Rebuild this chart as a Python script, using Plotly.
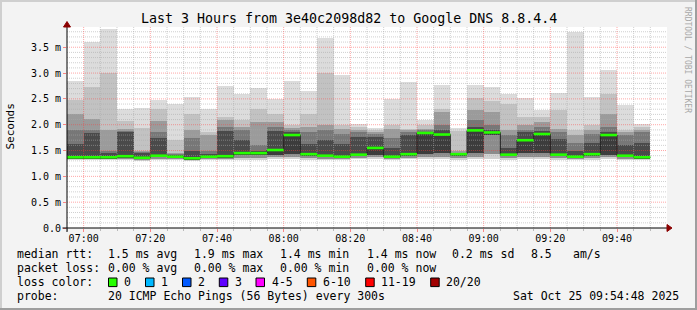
import plotly.graph_objects as go

# ---------------- data ----------------
DAY = "2025-10-25"
slot_start = ["06:55", "07:00", "07:05", "07:10", "07:15", "07:20", "07:25", "07:30", "07:35",
              "07:40", "07:45", "07:50", "07:55", "08:00", "08:05", "08:10", "08:15", "08:20",
              "08:25", "08:30", "08:35", "08:40", "08:45", "08:50", "08:55", "09:00", "09:05",
              "09:10", "09:15", "09:20", "09:25", "09:30", "09:35", "09:40", "09:45"]
slot_end = slot_start[1:] + ["09:50"]

# sorted ping levels per 5-minute slot (ms)
rtt_max = [2.84, 3.61, 3.86, 2.30, 2.32, 2.48, 2.41, 2.53, 2.30, 2.74, 2.59, 2.72, 2.50, 2.84, 2.66,
           3.67, 2.96, 2.01, 1.94, 2.49, 2.82, 2.10, 2.76, 1.94, 2.76, 2.73, 2.59, 2.51, 2.29, 2.61,
           3.79, 2.53, 3.05, 2.39, 2.01]
rtt_p19 = [2.48, 2.73, 3.00, 2.08, 1.94, 2.30, 1.70, 2.21, 1.85, 2.15, 2.10, 2.30, 2.20, 2.00, 2.21,
           3.00, 2.00, 1.95, 1.90, 2.00, 1.92, 2.00, 2.30, 1.88, 2.52, 2.45, 2.40, 2.15, 2.15, 2.28,
           1.90, 2.00, 2.60, 1.90, 1.95]
rtt_p17 = [2.21, 2.12, 1.89, 1.92, 1.50, 2.08, 1.46, 1.89, 1.80, 2.10, 1.95, 2.05, 2.05, 1.93, 1.95,
           2.00, 1.92, 1.90, 1.86, 1.92, 1.90, 1.92, 2.25, 1.50, 2.28, 2.25, 1.90, 2.00, 2.05, 1.92,
           1.80, 1.90, 2.20, 1.86, 1.90]
rtt_p15 = [1.89, 1.90, 1.50, 1.88, 1.48, 1.85, 1.44, 1.75, 1.50, 1.95, 1.90, 1.60, 1.95, 1.90, 1.85,
           1.90, 1.82, 1.85, 1.83, 1.75, 1.87, 1.90, 2.00, 1.47, 2.10, 2.00, 1.80, 1.90, 1.95, 1.86,
           1.65, 1.82, 1.95, 1.80, 1.85]
rtt_p13 = [1.62, 1.83, 1.45, 1.86, 1.46, 1.75, 1.42, 1.50, 1.43, 1.87, 1.70, 1.50, 1.87, 1.86, 1.62,
           1.70, 1.62, 1.76, 1.76, 1.55, 1.80, 1.87, 1.89, 1.45, 1.95, 1.90, 1.55, 1.86, 1.88, 1.72,
           1.50, 1.65, 1.85, 1.60, 1.65]
rtt_median = [1.37, 1.37, 1.37, 1.39, 1.36, 1.40, 1.38, 1.35, 1.38, 1.39, 1.45, 1.45, 1.51, 1.80, 1.43,
              1.40, 1.38, 1.42, 1.55, 1.38, 1.43, 1.84, 1.81, 1.43, 1.89, 1.85, 1.42, 1.70, 1.82, 1.42,
              1.38, 1.43, 1.80, 1.40, 1.37]
rtt_p8 = [1.35, 1.35, 1.35, 1.37, 1.34, 1.38, 1.36, 1.33, 1.36, 1.37, 1.41, 1.41, 1.42, 1.43, 1.41,
          1.38, 1.36, 1.40, 1.42, 1.36, 1.41, 1.44, 1.45, 1.41, 1.45, 1.80, 1.40, 1.45, 1.45, 1.40,
          1.36, 1.41, 1.42, 1.38, 1.35]
rtt_p3 = [1.34, 1.34, 1.34, 1.35, 1.33, 1.35, 1.35, 1.32, 1.35, 1.35, 1.36, 1.36, 1.37, 1.37, 1.36,
          1.35, 1.35, 1.36, 1.37, 1.35, 1.36, 1.38, 1.38, 1.36, 1.38, 1.44, 1.36, 1.38, 1.38, 1.36,
          1.35, 1.36, 1.37, 1.35, 1.34]
rtt_min = [1.32, 1.32, 1.32, 1.33, 1.31, 1.33, 1.33, 1.30, 1.33, 1.33, 1.33, 1.31, 1.34, 1.34, 1.33,
           1.33, 1.33, 1.34, 1.34, 1.33, 1.34, 1.35, 1.34, 1.33, 1.34, 1.34, 1.33, 1.34, 1.34, 1.33,
           1.33, 1.33, 1.34, 1.33, 1.32]

y_ticks = [0.0, 0.5, 1.0, 1.5, 2.0, 2.5, 3.0, 3.5]
y_tick_text = ["0.0", "0.5 m", "1.0 m", "1.5 m", "2.0 m", "2.5 m", "3.0 m", "3.5 m"]

loss_labels = ["0", "1", "2", "3", "4-5", "6-10", "11-19", "20/20"]
loss_colors = ["#26ff00", "#00b8ff", "#0059ff", "#5e00ff", "#ff00ff", "#ff5500", "#ff0000", "#a10000"]

title_text = "Last 3 Hours from 3e40c2098d82 to Google DNS 8.8.4.4"
stats_rtt = ["1.5 ms avg", "1.9 ms max", "1.4 ms min", "1.4 ms now", "0.2 ms sd", "8.5", "am/s"]
stats_loss = ["0.00 % avg", "0.00 % max", "0.00 % min", "0.00 % now"]
probe_text = "20 ICMP Echo Pings (56 Bytes) every 300s"
stamp_text = "Sat Oct 25 09:54:48 2025"

# ---------------- geometry helpers ----------------
W, H = 697, 310
L, R, T, B = 67, 30, 27, 82
PW, PH = W - L - R, H - T - B
Y_MAX = 3.892
STEP_MS = 300000
MONO = "DejaVu Sans Mono"


def px(x):
    return (x - L) / PW


def py(y):
    return (H - B - y) / PH


xs = [f"{DAY} {t}" for t in slot_start]
xe = [f"{DAY} {t}" for t in slot_end]
x_lo, x_hi = f"{DAY} 06:55", f"{DAY} 09:55"

fig = go.Figure()

bands = [
    (rtt_min, rtt_p3, "#d2d2d2"),
    (rtt_p3, rtt_p8, "#8c8c8c"),
    (rtt_p8, rtt_median, "#3c3c3c"),
    (rtt_median, rtt_p13, "#4a4a4a"),
    (rtt_p13, rtt_p15, "#777777"),
    (rtt_p15, rtt_p17, "#9b9b9b"),
    (rtt_p17, rtt_p19, "#c2c2c2"),
    (rtt_p19, rtt_max, "#dcdcdc"),
]
for lo, hi, col in bands:
    fig.add_trace(go.Bar(
        x=xs, base=lo, y=[h - l for l, h in zip(lo, hi)],
        width=STEP_MS, offset=0, marker=dict(color=col, line=dict(width=0)),
        hoverinfo="skip", showlegend=False))

# grid drawn over the smoke (as rrdtool does), below the median marks
minor_col = "rgba(170,170,170,0.55)"
major_col = "rgba(255,60,60,0.45)"
for is_major in (False, True):
    gx, gy = [], []
    for i in range(1, 36):
        minute = 55 + 5 * i
        hh, mm = 6 + minute // 60, minute % 60
        if (mm % 20 == 0) != is_major:
            continue
        t = f"{DAY} {hh:02d}:{mm:02d}"
        gx += [t, t, None]
        gy += [0, Y_MAX, None]
    hx, hy = [], []
    for j in range(1, 39):
        if (j % 5 == 0) != is_major:
            continue
        v = j / 10
        hx += [x_lo, x_hi, None]
        hy += [v, v, None]
    for ax_x, ax_y in ((gx, gy), (hx, hy)):
        fig.add_trace(go.Scatter(
            x=ax_x, y=ax_y, mode="lines", connectgaps=False,
            line=dict(color=major_col if is_major else minor_col, width=1, dash="1px,1px"),
            hoverinfo="skip", showlegend=False))

# median dark step line
fig.add_trace(go.Scatter(
    x=xs + [xe[-1]], y=rtt_median + [rtt_median[-1]], mode="lines",
    line=dict(color="#202020", width=1, shape="hv"), hoverinfo="skip", showlegend=False))

# green median marks (loss colour 0), one segment per slot
mx, my = [], []
for s, e, m in zip(xs, xe, rtt_median):
    mx += [s, e, None]
    my += [m, m, None]
fig.add_trace(go.Scatter(
    x=mx, y=my, mode="lines", connectgaps=False,
    line=dict(color=loss_colors[0], width=2.6), hoverinfo="skip", showlegend=False))

shapes = []
# axes with arrows
shapes.append(dict(type="line", xref="paper", yref="paper", x0=px(62.5), x1=px(669), y0=py(228), y1=py(228),
                   line=dict(color="#000000", width=1), layer="above"))
shapes.append(dict(type="line", xref="paper", yref="paper", x0=px(67), x1=px(67), y0=py(232), y1=py(24),
                   line=dict(color="#000000", width=1), layer="above"))
shapes.append(dict(type="path", xref="paper", yref="paper",
                   path=f"M {px(667)},{py(224.5)} L {px(672)},{py(228)} L {px(667)},{py(231.5)} Z",
                   fillcolor="#8b0000", line=dict(color="#8b0000", width=1), layer="above"))
shapes.append(dict(type="path", xref="paper", yref="paper",
                   path=f"M {px(63.5)},{py(27)} L {px(67)},{py(21.5)} L {px(70.5)},{py(27)} Z",
                   fillcolor="#8b0000", line=dict(color="#8b0000", width=1), layer="above"))

# frame (rrdtool 3D shade)
shapes += [
    dict(type="rect", xref="paper", yref="paper", x0=px(0), x1=px(W), y0=py(0), y1=py(2),
         fillcolor="#cfcfcf", line=dict(width=0)),
    dict(type="rect", xref="paper", yref="paper", x0=px(0), x1=px(2), y0=py(0), y1=py(H),
         fillcolor="#cfcfcf", line=dict(width=0)),
    dict(type="rect", xref="paper", yref="paper", x0=px(0), x1=px(W), y0=py(H - 2), y1=py(H),
         fillcolor="#9e9e9e", line=dict(width=0)),
    dict(type="rect", xref="paper", yref="paper", x0=px(W - 2), x1=px(W), y0=py(0), y1=py(H),
         fillcolor="#9e9e9e", line=dict(width=0)),
]

annotations = []


def txt(s, x, y, size=11.5, anchor="left", color="#000000", angle=0):
    annotations.append(dict(text=s, x=px(x), y=py(y), xref="paper", yref="paper", showarrow=False,
                            xanchor=anchor, yanchor="middle", textangle=angle, borderpad=0,
                            font=dict(family=MONO, size=size, color=color)))


txt(title_text, 348.5, 19, size=13.3, anchor="center")
txt("Seconds", 10.5, 127, size=11, anchor="center", angle=-90)
txt("RRDTOOL / TOBI OETIKER", 688, 60, size=8, anchor="center", color="#a8a8a8", angle=90)

row_y = [254.3, 268.3, 282.3, 296.2]
txt("median rtt:", 16, row_y[0])
for s, x in zip(stats_rtt, [107.3, 193.3, 279.3, 366, 451, 530, 572.3]):
    txt(s, x, row_y[0])
txt("packet loss:", 16, row_y[1])
for s, x in zip(stats_loss, [107.3, 193.3, 279.3, 365.7]):
    txt(s, x, row_y[1])
txt("loss color:", 16, row_y[2])
box_x = [108.5, 145.5, 182.5, 219.3, 256, 307.3, 365.7, 430.7]
lab_x = [123.3, 160, 197.3, 234.3, 270.7, 322, 380, 445.3]
for lab, col, bx, lx in zip(loss_labels, loss_colors, box_x, lab_x):
    shapes.append(dict(type="rect", xref="paper", yref="paper", x0=px(bx), x1=px(bx + 8.5),
                       y0=py(row_y[2] - 4.3), y1=py(row_y[2] + 4.3), fillcolor=col,
                       line=dict(color="#000000", width=1)))
    txt(lab, lx, row_y[2])
txt("probe:", 16, row_y[3])
txt(probe_text, 107.3, row_y[3])
txt(stamp_text, 680, row_y[3], anchor="right")

fig.update_layout(
    width=W, height=H, margin=dict(l=L, r=R, t=T, b=B, pad=0),
    paper_bgcolor="#f3f3f3", plot_bgcolor="#ffffff",
    barmode="overlay", bargap=0, showlegend=False,
    shapes=shapes, annotations=annotations,
    font=dict(family=MONO, size=10, color="#000000"),
    xaxis=dict(type="date", range=[x_lo, x_hi], showgrid=False, zeroline=False,
               showline=False, tickformat="%H:%M", tick0=f"{DAY} 07:00", dtick=20 * 60000,
               ticks="outside", ticklen=3, tickcolor="rgba(255,60,60,0.6)", ticklabelstandoff=-2,
               tickfont=dict(family=MONO, size=10, color="#000000"),
               minor=dict(dtick=STEP_MS, tick0=f"{DAY} 07:00", ticks="outside", ticklen=2,
                          tickcolor="rgba(170,170,170,0.8)", showgrid=False),
               fixedrange=True),
    yaxis=dict(range=[0, Y_MAX], tickmode="array", tickvals=y_ticks, ticktext=y_tick_text,
               showgrid=False, zeroline=False, showline=False, ticks="outside", ticklen=3,
               tickcolor="rgba(255,60,60,0.6)",
               tickfont=dict(family=MONO, size=10, color="#000000"), fixedrange=True),
)

fig.write_html("out.html")
